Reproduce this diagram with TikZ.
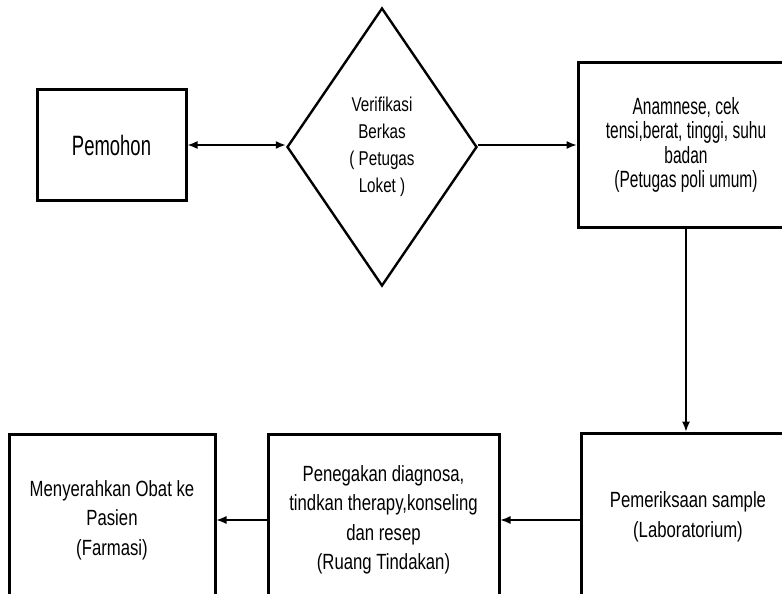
\documentclass[tikz,border=0pt]{standalone}
\usepackage{fontspec}
\setmainfont{Liberation Sans}[FakeStretch=0.76]
\newfontfamily\tallfont{Liberation Sans}[FakeStretch=0.66]
\usetikzlibrary{arrows.meta, shapes.geometric}

\begin{document}
\begin{tikzpicture}[x=1pt, y=-1pt]

\tikzset{
  box/.style={rectangle, draw, line width=3pt, inner sep=0pt, align=center,
    font=\fontsize{22}{24}\selectfont},
  lowbox/.style={box, minimum height=172pt, font=\fontsize{22}{29.5}\selectfont},
  check/.style={diamond, draw, line width=2.4pt, inner sep=0pt, align=center,
    minimum width=190pt, minimum height=278pt, font=\fontsize{20}{27}\selectfont},
  flow/.style={-{Latex[length=10pt, width=8pt]}, line width=1.2pt},
  >={Latex}
}

% --- Rahmen ---
\useasboundingbox (0,0) rectangle (782,594);
\clip (0,0) rectangle (782,594);

% --- Knoten obere Reihe ---
\node[box, minimum width=149pt, minimum height=110pt, font=\tallfont\fontsize{28}{30}\selectfont]
  (pemohon) at (111.5,145) {Pemohon};
\node[check] (verif) at (382,147) {Verifikasi\\Berkas\\( Petugas\\Loket )};
\node[box, minimum width=216pt, minimum height=164pt, font=\tallfont\fontsize{23.5}{24.5}\selectfont]
  (anam) at (686,145)
  {Anamnese, cek\\tensi,berat, tinggi, suhu\\badan\\(Petugas poli umum)};

% --- Knoten untere Reihe ---
\node[lowbox, minimum width=214pt, minimum height=168pt] (lab) at (688,517)
  {Pemeriksaan sample\\(Laboratorium)};
\node[lowbox, minimum width=231pt] (tindakan) at (383.5,520)
  {Penegakan diagnosa,\\tindkan therapy,konseling\\dan resep\\(Ruang Tindakan)};
\node[lowbox, minimum width=206pt] (farmasi) at (112,520)
  {Menyerahkan Obat ke\\Pasien\\(Farmasi)};

% --- Kanten ---
\draw[{Latex[length=10pt, width=8pt]}-{Latex[length=10pt, width=8pt]}, line width=1.6pt]
  (pemohon.east) -- (pemohon.east -| verif.west);
\draw[flow] (verif.east |- anam.west) -- (anam.west);
\draw[flow] (anam.south) -- (anam.south |- lab.north);
\draw[flow] (lab.west |- tindakan.east) -- (tindakan.east);
\draw[flow] (tindakan.west) -- (farmasi.east);

\end{tikzpicture}
\end{document}
